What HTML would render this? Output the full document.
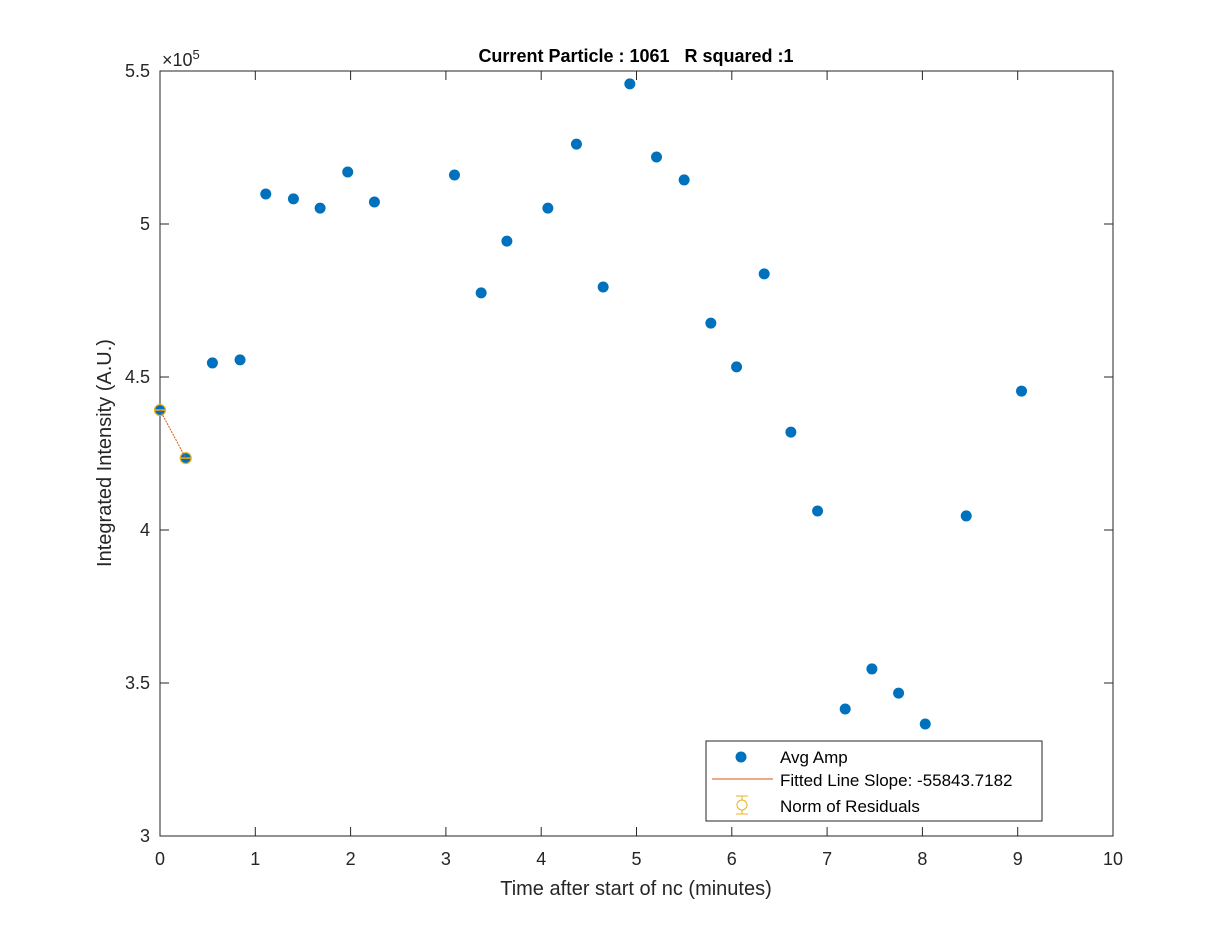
<!DOCTYPE html>
<html><head><meta charset="utf-8"><style>
body{margin:0;background:#fff;width:1230px;height:939px;overflow:hidden}
svg{font-family:"Liberation Sans",Arial,sans-serif}
</style></head><body>
<svg id="chart" width="1230" height="939" xmlns="http://www.w3.org/2000/svg"></svg>
<script>
const xTicks=[0,1,2,3,4,5,6,7,8,9,10];
const yTicks=[3,3.5,4,4.5,5,5.5];
const yTickLabels=["3","3.5","4","4.5","5","5.5"];
const timeMin=[0,0.27,0.55,0.84,1.11,1.4,1.68,1.97,2.25,3.09,3.37,3.64,4.07,4.37,4.65,4.93,5.21,5.5,5.78,6.05,6.34,6.62,6.9,7.19,7.47,7.75,8.03,8.46,9.04];
const avgAmp=[4.392,4.235,4.546,4.556,5.098,5.082,5.052,5.170,5.072,5.160,4.775,4.944,5.052,5.261,4.794,5.458,5.219,5.144,4.676,4.533,4.837,4.320,4.062,3.415,3.546,3.467,3.366,4.046,4.454];
const fitX=[0,0.27];
const fitY=[4.392,4.235];
const L=160,R=1113,T=71,B=836;
const sx=v=>L+(v-0)/(10-0)*(R-L);
const sy=v=>B-(v-3)/(5.5-3)*(B-T);
const svg=document.getElementById('chart');
const NS='http://www.w3.org/2000/svg';
function mk(tag,attrs,parent){const e=document.createElementNS(NS,tag);for(const k in attrs)e.setAttribute(k,attrs[k]);(parent||svg).appendChild(e);return e;}
const ax=mk('rect',{x:L,y:T,width:R-L,height:B-T,fill:'#fff',stroke:'#262626','stroke-width':1});


xTicks.forEach(t=>{const x=sx(t);
 mk('line',{x1:x,y1:B,x2:x,y2:B-9,stroke:'#262626'});mk('line',{x1:x,y1:T,x2:x,y2:T+9,stroke:'#262626'});
 const tx=mk('text',{x:x,y:B+29,'text-anchor':'middle','font-size':18,fill:'#262626'});tx.textContent=t;
 
 });
yTicks.forEach((t,i)=>{const y=sy(t);
 mk('line',{x1:L,y1:y,x2:L+9,y2:y,stroke:'#262626'});mk('line',{x1:R,y1:y,x2:R-9,y2:y,stroke:'#262626'});
 const tx=mk('text',{x:L-10,y:y+6,'text-anchor':'end','font-size':18,fill:'#262626'});tx.textContent=yTickLabels[i];
 
 });
timeMin.forEach((t,i)=>{const c=mk('circle',{cx:sx(t),cy:sy(avgAmp[i]),r:5.5,fill:'#0072BD'});
 
 });
fitX.forEach((t,i)=>{const x=sx(t),y=sy(fitY[i]);
 mk('circle',{cx:x,cy:y,r:5.5,fill:'none',stroke:'#EDB120','stroke-width':1.2});
 mk('line',{x1:x-5,y1:y,x2:x+5,y2:y,stroke:'#EDB120','stroke-width':1.5});});
const fl=mk('line',{x1:sx(fitX[0]),y1:sy(fitY[0]),x2:sx(fitX[1]),y2:sy(fitY[1]),stroke:'#D95319','stroke-width':1,'stroke-dasharray':'2,1'});


</script>
<svg style="position:absolute;left:0;top:0" width="1230" height="939" xmlns="http://www.w3.org/2000/svg" font-family="Liberation Sans, Arial, sans-serif">
<text x="162" y="66" font-size="18" fill="#262626">×10<tspan dy="-7" font-size="13">5</tspan></text>
<text x="636" y="62" text-anchor="middle" font-size="18" font-weight="bold" fill="#000" style="white-space:pre">Current Particle : 1061   R squared :1</text>
<text x="636" y="895" text-anchor="middle" font-size="20" fill="#262626">Time after start of nc (minutes)</text>
<text transform="translate(111,453) rotate(-90)" text-anchor="middle" font-size="20" fill="#262626">Integrated Intensity (A.U.)</text>
<g>
<rect x="706" y="741" width="336" height="80" fill="#fff" stroke="#262626"/>
<circle cx="741" cy="757" r="5.5" fill="#0072BD"/>
<text x="780" y="763" font-size="17" fill="#000">Avg Amp</text>
<line x1="712" y1="779" x2="773" y2="779" stroke="#D95319"/>
<text x="780" y="786" font-size="17" fill="#000">Fitted Line Slope: -55843.7182</text>
<line x1="736" y1="796" x2="748" y2="796" stroke="#EDB120"/>
<line x1="742" y1="796" x2="742" y2="814" stroke="#EDB120"/>
<line x1="736" y1="814" x2="748" y2="814" stroke="#EDB120"/>
<circle cx="742" cy="805" r="5" fill="#fff" stroke="#EDB120"/>
<text x="780" y="812" font-size="17" fill="#000">Norm of Residuals</text>
</g>
</svg>
</body></html>
